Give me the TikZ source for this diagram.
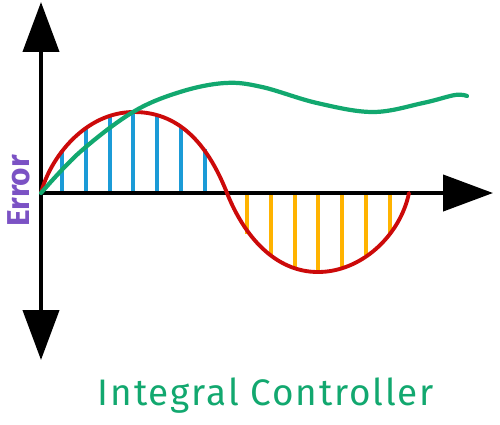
\documentclass[tikz,border=0pt]{standalone}
\usepackage{fontspec}
\setmainfont{Fira Sans}
\newfontfamily\titlefont[LetterSpace=5]{Fira Sans}
\usetikzlibrary{arrows.meta}

\definecolor{errred}{HTML}{CC0A0A}
\definecolor{posblue}{HTML}{1B9BD7}
\definecolor{negorange}{HTML}{FFB300}
\definecolor{intgreen}{HTML}{12A86F}
\definecolor{labpurple}{HTML}{7B52C4}

\begin{document}
\begin{tikzpicture}[x=0.02cm,y=-0.02cm,
	axis/.style={line width=2.4pt,>={Triangle[length=1cm,width=0.72cm]}},
	slice/.style={line width=2.2pt}]
	%\draw[help lines] (0,0) grid[step=50] (500,424);
	\useasboundingbox (0,0) rectangle (500,424);

	\coordinate (O) at (41,193);
	\coordinate (Top) at (41,2);
	\coordinate (Bottom) at (41,360);
	\coordinate (Right) at (493,193);
	\coordinate (PosPeak) at (134,112);
	\coordinate (Cross) at (227,193);
	\coordinate (NegPeak) at (318,272);
	\coordinate (End) at (409,193);

	% slices under the error curve
	\foreach \x in {62,86,110,133,157,181,205}
		\draw[slice,posblue] (\x,193) -- (\x,{193-81*pow(abs(sin((\x-41)/186*180)),0.6)});
	\foreach \x in {247,271,295,318,342,366,390}
		\draw[slice,negorange] (\x,193) -- (\x,{193+79*pow(abs(sin((\x-227)/182*180)),0.6)});

	\draw[axis,<->] (Top) -- (Bottom);
	\draw[axis,->] (O) -- (Right);

	% error
	\draw[errred,line width=2.2pt,line cap=round] (O) .. controls (50,158) and (85,112) .. (PosPeak)
		.. controls (183,112) and (210,150) .. (Cross)
		.. controls (244,236) and (275,272) .. (NegPeak)
		.. controls (361,272) and (400,236) .. (End);

	% integral
	\draw[intgreen,line width=2.4pt,line cap=round] plot[smooth,tension=0.6] coordinates {(41,193) (80,152) (133,112) (180,92) (225,83) (262,87) (317,103) (373,112) (423,103) (455,95) (467,96)};

	\node[rotate=90,anchor=base,text=labpurple,font=\bfseries\fontsize{18}{24}\selectfont] (Error) at (30,191) {Error};
	\node[anchor=base,text=intgreen,font=\titlefont\fontsize{21}{24}\selectfont] (Title) at (266,405) {Integral Controller};
\end{tikzpicture}
\end{document}
